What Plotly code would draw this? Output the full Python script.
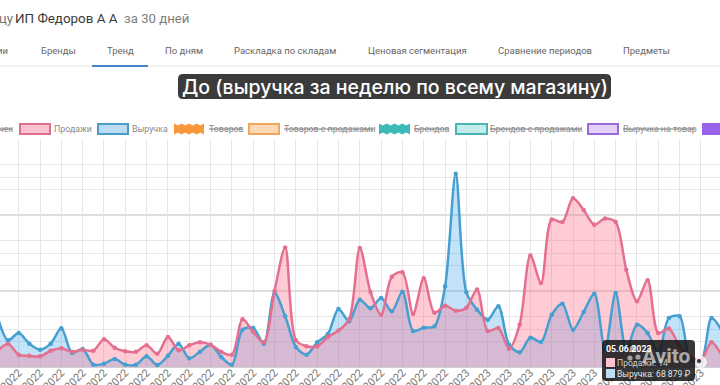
import plotly.graph_objects as go

W, H = 720, 385

weeks = ["28.02.2022","07.03.2022","14.03.2022","21.03.2022","28.03.2022","04.04.2022","11.04.2022","18.04.2022","25.04.2022",
"02.05.2022","09.05.2022","16.05.2022","23.05.2022","30.05.2022","06.06.2022","13.06.2022","20.06.2022","27.06.2022",
"04.07.2022","11.07.2022","18.07.2022","25.07.2022","01.08.2022","08.08.2022","15.08.2022","22.08.2022","29.08.2022",
"05.09.2022","12.09.2022","19.09.2022","26.09.2022","03.10.2022","10.10.2022","17.10.2022","24.10.2022","31.10.2022",
"07.11.2022","14.11.2022","21.11.2022","28.11.2022","05.12.2022","12.12.2022","19.12.2022","26.12.2022","02.01.2023",
"09.01.2023","16.01.2023","23.01.2023","30.01.2023","06.02.2023","13.02.2023","20.02.2023","27.02.2023","06.03.2023",
"13.03.2023","20.03.2023","27.03.2023","03.04.2023","10.04.2023","17.04.2023","24.04.2023","01.05.2023","08.05.2023",
"15.05.2023","22.05.2023","29.05.2023","05.06.2023","12.06.2023","19.06.2023"]

sales = [31,46,24,22,21,32,37,30,34,32,55,38,31,30,43,26,59,33,43,49,44,30,24,94,69,49,150,236,53,41,41,59,72,94,235,148,
103,178,187,105,175,107,121,111,117,153,71,77,36,84,220,166,291,286,333,310,281,293,286,192,130,171,67,76,41,20,14,49,21]

revenue = [667000,351000,447000,307000,228000,307000,509000,184000,237000,31000,44000,105000,31000,31000,140000,26000,149000,
307000,114000,202000,294000,132000,31000,491000,513000,307000,974000,667000,263000,162000,325000,434000,763000,601000,886000,
772000,908000,732000,991000,474000,518000,535000,1061000,2544000,982000,754000,623000,798000,294000,193000,386000,329000,689000,
833000,491000,724000,965000,228000,974000,228000,557000,447000,184000,645000,667000,96000,68879,645000,469000]

tab_labels = ["ии","Бренды","Тренд","По дням","Раскладка по складам","Ценовая сегментация","Сравнение периодов","Предметы"]
legend_labels = ["чек","Продажи","Выручка","Товаров","Товаров с продажами","Брендов","Брендов с продажами","Выручка на товар"]
tick_dates = weeks[2::2]

PINK, BLUE = "#e46f90", "#459fd0"
GREY = "#6b6b6b"


def px(x):
    return x / W


def py(y):
    return 1 - y / H


shapes, notes = [], []


def text(x, y, s, size=11, color=GREY, anchor="left", family="Roboto", opacity=1, weight=None):
    f = dict(size=size, color=color, family=family)
    if weight:
        f["weight"] = weight
    notes.append(dict(xref="paper", yref="paper", x=px(x), y=py(y), text=s, showarrow=False, xanchor=anchor,
                      yanchor="middle", opacity=opacity, font=f, borderpad=0, borderwidth=0))


def rect(x0, y0, x1, y1, fill, line=None, lw=0):
    shapes.append(dict(type="rect", xref="paper", yref="paper", x0=px(x0), x1=px(x1), y0=py(y0), y1=py(y1),
                       fillcolor=fill, line=dict(color=line or fill, width=lw), layer="above"))


def circle(cx, cy, r, fill):
    shapes.append(dict(type="circle", xref="paper", yref="paper", x0=px(cx - r), x1=px(cx + r), y0=py(cy - r), y1=py(cy + r),
                       fillcolor=fill, line=dict(width=0), layer="above"))


def round_rect(x0, y0, x1, y1, r, fill):
    p = (f"M{px(x0 + r)},{py(y0)} L{px(x1 - r)},{py(y0)} Q{px(x1)},{py(y0)} {px(x1)},{py(y0 + r)} "
         f"L{px(x1)},{py(y1 - r)} Q{px(x1)},{py(y1)} {px(x1 - r)},{py(y1)} L{px(x0 + r)},{py(y1)} "
         f"Q{px(x0)},{py(y1)} {px(x0)},{py(y1 - r)} L{px(x0)},{py(y0 + r)} Q{px(x0)},{py(y0)} {px(x0 + r)},{py(y0)} Z")
    shapes.append(dict(type="path", xref="paper", yref="paper", path=p, fillcolor=fill, line=dict(width=0), layer="above"))


def hline(x0, x1, y, color, w=1):
    shapes.append(dict(type="line", xref="paper", yref="paper", x0=px(x0), x1=px(x1), y0=py(y), y1=py(y),
                       line=dict(color=color, width=w), layer="above"))


def wavy(x0, y0, x1, y1, fill):
    pts_top = [(x0 + (x1 - x0) * i / 8, y0 + (1.5 if i % 2 else -0.5)) for i in range(9)]
    pts_bot = [(x1 - (x1 - x0) * i / 8, y1 + (-1.5 if i % 2 else 0.5)) for i in range(9)]
    p = "M" + " L".join(f"{px(a)},{py(b)}" for a, b in pts_top + pts_bot) + " Z"
    shapes.append(dict(type="path", xref="paper", yref="paper", path=p, fillcolor=fill, line=dict(width=0), layer="above"))


# page header
text(-1, 18, "цу", 13.2, "#777777")
text(15, 18, "ИП Федоров А А", 13.4, "#3a3a3a")
text(124, 18, "за 30 дней", 13.2, "#808080")

# tabs
for s, x in zip(tab_labels, [-3, 41, 107, 165, 234, 368, 498, 623]):
    text(x, 51, s, 9.5, "#666666")
hline(0, W, 66, "#e6e6e6", 1)
hline(92, 148, 66, "#3d85c6", 2)

# dark caption
round_rect(178, 74, 611, 99, 5, "#3b3b3b")
text(394.5, 87, "До (выручка за неделю по всему магазину)", 19.5, "#ffffff", "center", "Inter", weight=500)

# legend row
SW_T, SW_B = 124, 134
LF = 8.8
text(13, 129, legend_labels[0], LF, "#8a8a8a", "right")
hline(0, 13, 129, "#777777")
rect(20, SW_T, 50, SW_B, "#fbc2d0", "#df6f8e", 2)
text(54, 129, legend_labels[1], LF, "#8a8a8a")
rect(98, SW_T, 128, SW_B, "#bcdcf4", "#4a9cc8", 2)
text(132, 129, legend_labels[2], LF, "#8a8a8a")
wavy(174, SW_T, 204, SW_B, "#f9973b")
text(209, 129, legend_labels[3], LF, "#8a8a8a")
hline(209, 242, 129, "#777777")
rect(249, SW_T, 279, SW_B, "#fdd9b5", "#eda75f", 2)
text(284, 129, legend_labels[4], LF, "#8a8a8a")
hline(284, 373, 129, "#777777")
wavy(379, SW_T, 410, SW_B, "#3fb8b8")
text(414, 129, legend_labels[5], LF, "#8a8a8a")
hline(414, 449, 129, "#777777")
rect(456, SW_T, 487, SW_B, "#c3ecec", "#4cb3b3", 2)
text(490, 129, legend_labels[6], LF, "#8a8a8a")
hline(490, 581, 129, "#777777")
rect(588, SW_T, 618, SW_B, "#e2d0fa", "#9a6bd8", 2)
text(623, 129, legend_labels[7], LF, "#8a8a8a")
hline(623, 695, 129, "#777777")
rect(702, SW_T - 1, 722, SW_B + 1, "#9a62ea")

# tooltip
round_rect(602, 340, 695, 381, 4, "rgba(20,20,20,0.85)")
text(606, 349, "<b>05.06.2023</b>", 8.8, "#ffffff")
rect(606, 358, 615, 367, "#fbc2d0")
text(617, 362.5, "Продажи: 14", 8.6, "#d0d0d0")
rect(606, 369, 615, 378, "#bcdcf4")
text(617, 373.5, "Выручка: 68 879 ₽", 8.6, "#e6e6e6")
# watermark
circle(633, 349, 3.2, "rgba(255,255,255,0.55)")
circle(630, 358, 2.6, "rgba(255,255,255,0.55)")
circle(638, 357, 2.6, "rgba(255,255,255,0.55)")
text(642, 356, "<b>Avito</b>", 21, "#ffffff", opacity=0.6)
# mouse cursor
circle(701, 362, 6, "rgba(255,255,255,0.75)")
circle(699, 361, 2, "#333333")

fig = go.Figure()
# fills first, lines after, so both lines stay on top of both fills
SPL = dict(shape="spline", smoothing=0.85)
fig.add_trace(go.Scatter(x=weeks, y=revenue, yaxis="y", mode="lines", fill="tozeroy",
                         fillcolor="rgba(54,162,235,0.30)", line=dict(width=0, **SPL)))
fig.add_trace(go.Scatter(x=weeks, y=sales, yaxis="y2", mode="lines", fill="tozeroy",
                         fillcolor="rgba(255,99,132,0.33)", line=dict(width=0, **SPL)))
fig.add_trace(go.Scatter(x=weeks, y=revenue, yaxis="y3", name="Выручка", mode="lines+markers",
                         line=dict(color=BLUE, width=2.5, **SPL), marker=dict(size=4.5, color=BLUE)))
fig.add_trace(go.Scatter(x=weeks, y=sales, yaxis="y4", name="Продажи", mode="lines+markers",
                         line=dict(color=PINK, width=2.5, **SPL), marker=dict(size=4.5, color=PINK)))

GRID, GRID_MAJOR = "#e6e6e6", "#dedede"
DOMAIN = [18 / H, (H - 139) / H]
fig.update_layout(
    width=W, height=H, autosize=False, margin=dict(l=0, r=0, t=0, b=0), showlegend=False,
    paper_bgcolor="white", plot_bgcolor="white", shapes=shapes, annotations=notes,
    xaxis=dict(type="category", range=[0.244, 67.79], tickmode="array", tickvals=tick_dates, ticktext=tick_dates,
               tickangle=-45, tickfont=dict(size=11, color="#777777", family="Roboto"), showgrid=True,
               gridcolor=GRID, gridwidth=1, zeroline=False, showline=True, linecolor="#d0d0d0", ticks="",
               ticklabelstandoff=-6, automargin=False),
    yaxis=dict(domain=DOMAIN, range=[0, 3000000], tickmode="array",
               tickvals=[500000, 1500000, 2500000], showticklabels=False, gridcolor=GRID, gridwidth=1,
               zeroline=False, automargin=False),
    yaxis2=dict(overlaying="y", side="right", range=[0, 450], tickmode="array", tickvals=[150, 300, 450],
                showticklabels=False, showgrid=True, gridcolor=GRID_MAJOR, gridwidth=1.5, zeroline=False,
                automargin=False,
                minor=dict(tickmode="array", tickvals=[50, 100, 200, 250, 350, 400], showgrid=True,
                           gridcolor=GRID, gridwidth=1)),
    yaxis3=dict(overlaying="y", range=[0, 3000000], showgrid=False, showticklabels=False, zeroline=False, visible=False),
    yaxis4=dict(overlaying="y", side="right", range=[0, 450], showgrid=False, showticklabels=False, zeroline=False, visible=False),
)
fig.write_html("out.html", config=dict(displayModeBar=False),
               post_script="document.body.style.margin='0';document.documentElement.style.overflow='hidden';")
